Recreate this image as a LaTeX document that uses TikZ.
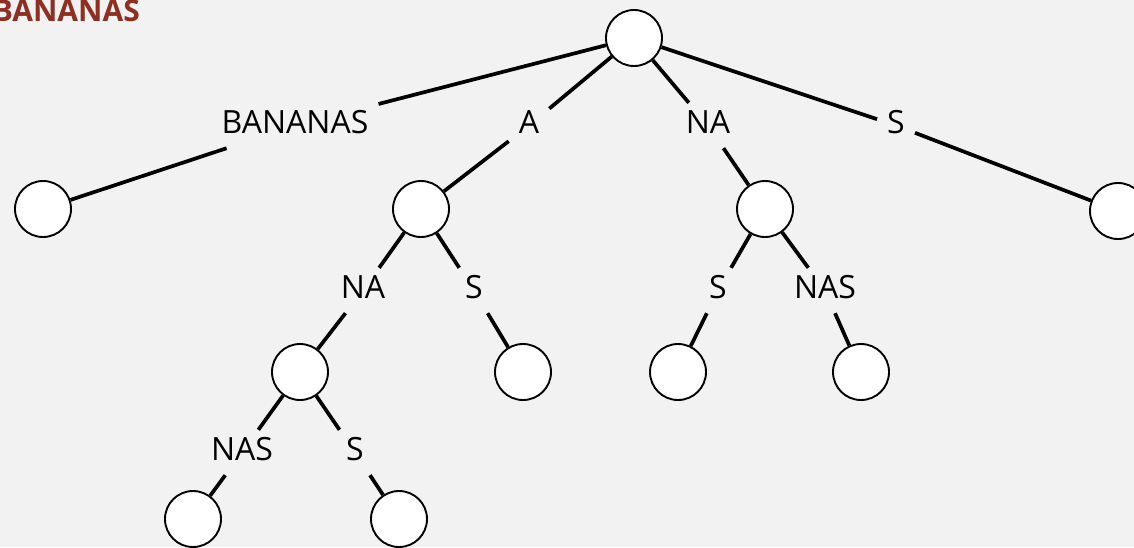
\documentclass[tikz,border=0pt]{standalone}
\usepackage{fontspec}
\setmainfont{Open Sans}
\definecolor{bg}{HTML}{F2F2F2}
\definecolor{titlered}{HTML}{8E2F22}
\begin{document}
\begin{tikzpicture}[x=1pt,y=-1pt,
  tnode/.style={circle,draw=black,line width=1.9pt,fill=white,minimum size=56pt,inner sep=0pt},
  lbl/.style={anchor=base,inner xsep=10pt,inner ysep=7pt,text height=23pt,text depth=8pt,
    font=\fontsize{32}{38}\selectfont,text=black},
  edge/.style={line width=3.7pt,black}]
\fill[bg] (0,0) rectangle (1134,547);
\useasboundingbox (0,0) rectangle (1134,547);
\node[anchor=base east,font=\fontsize{30}{36}\selectfont\bfseries,text=titlered,inner sep=0pt] (title) at (140,21) {BANANAS};
% tree nodes
\node[tnode] (r) at (634,38) {};
\node[tnode] (l1) at (43,209) {};
\node[tnode] (a) at (421,209) {};
\node[tnode] (na) at (765,209) {};
\node[tnode] (s1) at (1118,211) {};
\node[tnode] (ana) at (300,372) {};
\node[tnode] (as) at (523,372) {};
\node[tnode] (nas) at (678,372) {};
\node[tnode] (nanas) at (861,372) {};
\node[tnode] (ananas) at (193,519) {};
\node[tnode] (anas) at (399,519) {};
% labels
\node[lbl] (e1) at (295,133) {BANANAS};
\node[lbl] (e2) at (529,133) {A};
\node[lbl] (e3) at (708,133) {NA};
\node[lbl] (e4) at (896,133) {S};
\node[lbl] (e5) at (363,298) {NA};
\node[lbl] (e6) at (474,298) {S};
\node[lbl] (e7) at (718,298) {S};
\node[lbl] (e8) at (825,298) {NAS};
\node[lbl] (e9) at (242,460) {NAS};
\node[lbl] (e10) at (355,460) {S};
% edges
\draw[edge] (r) -- (e1); \draw[edge] (e1) -- (l1);
\draw[edge] (r) -- (e2); \draw[edge] (e2) -- (a);
\draw[edge] (r) -- (e3); \draw[edge] (e3) -- (na);
\draw[edge] (r) -- (e4); \draw[edge] (e4) -- (s1);
\draw[edge] (a) -- (e5); \draw[edge] (e5) -- (ana);
\draw[edge] (a) -- (e6); \draw[edge] (e6) -- (as);
\draw[edge] (na) -- (e7); \draw[edge] (e7) -- (nas);
\draw[edge] (na) -- (e8); \draw[edge] (e8) -- (nanas);
\draw[edge] (ana) -- (e9); \draw[edge] (e9) -- (ananas);
\draw[edge] (ana) -- (e10); \draw[edge] (e10) -- (anas);
\end{tikzpicture}
\end{document}
